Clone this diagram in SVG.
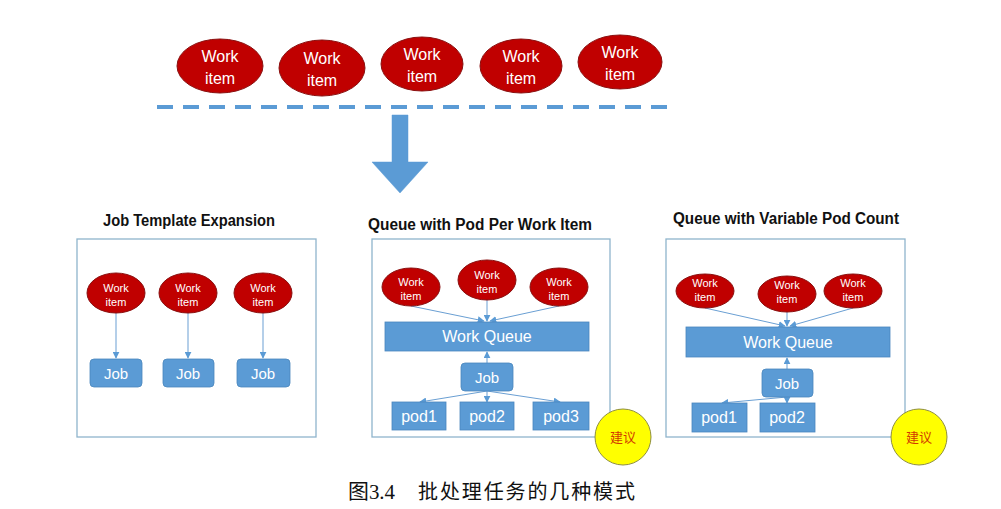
<svg xmlns="http://www.w3.org/2000/svg" width="1001" height="509" viewBox="0 0 1001 509">
<defs>
<marker id="ah" viewBox="0 0 10 10" refX="9" refY="5" markerWidth="7" markerHeight="7" markerUnits="userSpaceOnUse" orient="auto">
<path d="M0,0 L10,5 L0,10 z" fill="#5b9bd5"/>
</marker>
<style>
.wi{fill:#c00000;stroke:#8a1010;stroke-width:1}
.wt{fill:#fff;font-family:"Liberation Sans",Arial,sans-serif;text-anchor:middle}
.big{font-size:16px}
.sm{font-size:11px}
.blue{fill:#5b9bd5;stroke:#4a86bd;stroke-width:0.8}
.bt{fill:#fff;font-family:"Liberation Sans",Arial,sans-serif;text-anchor:middle}
.frame{fill:none;stroke:#8fb4cc;stroke-width:1.3}
.title{font-family:"Liberation Sans",Arial,sans-serif;font-weight:bold;font-size:16px;fill:#111}
.con{stroke:#6a9fd3;stroke-width:1;fill:none;marker-end:url(#ah)}
.sug{fill:#ffff00;stroke:#8f8f40;stroke-width:1}
.st{fill:#d23a00;font-family:"Noto Sans CJK SC",sans-serif;font-size:13px;text-anchor:middle}
</style>
</defs>
<rect width="1001" height="509" fill="#fff"/>

<!-- top work items -->
<g id="top-item1"><ellipse class="wi" cx="220" cy="66" rx="43" ry="27"/><text class="wt big" x="220" y="62">Work</text><text class="wt big" x="220" y="84">item</text></g>
<g id="top-item2"><ellipse class="wi" cx="322" cy="68" rx="43" ry="28"/><text class="wt big" x="322" y="64">Work</text><text class="wt big" x="322" y="86">item</text></g>
<g id="top-item3"><ellipse class="wi" cx="422" cy="64" rx="41" ry="27"/><text class="wt big" x="422" y="60">Work</text><text class="wt big" x="422" y="82">item</text></g>
<g id="top-item4"><ellipse class="wi" cx="521" cy="66" rx="41" ry="27"/><text class="wt big" x="521" y="62">Work</text><text class="wt big" x="521" y="84">item</text></g>
<g id="top-item5"><ellipse class="wi" cx="620" cy="62" rx="42" ry="27"/><text class="wt big" x="620" y="58">Work</text><text class="wt big" x="620" y="80">item</text></g>

<g id="divider"><line x1="157" y1="107" x2="670" y2="107" stroke="#5b9bd5" stroke-width="4" stroke-dasharray="16 10"/></g>
<g id="big-arrow"><polygon points="392,115 408,115 408,162 428,162 400,193 372,162 392,162" fill="#5b9bd5" stroke="#5b9bd5" stroke-width="0.5"/></g>

<!-- titles -->
<text class="title" x="103" y="226" textLength="172" lengthAdjust="spacingAndGlyphs">Job Template Expansion</text>
<text class="title" x="368" y="230" textLength="224" lengthAdjust="spacingAndGlyphs">Queue with Pod Per Work Item</text>
<text class="title" x="673" y="224" textLength="226" lengthAdjust="spacingAndGlyphs">Queue with Variable Pod Count</text>

<!-- frames -->
<rect class="frame" x="77" y="239" width="239" height="198"/>
<rect class="frame" x="372" y="239" width="238" height="198"/>
<rect class="frame" x="666" y="239" width="239" height="198"/>

<!-- connectors -->
<g id="connectors">
<line class="con" x1="116" y1="313" x2="116" y2="358"/>
<line class="con" x1="188" y1="313" x2="188" y2="358"/>
<line class="con" x1="263" y1="313" x2="263" y2="358"/>

<line class="con" x1="411" y1="306" x2="484" y2="321"/>
<line class="con" x1="487" y1="299" x2="487" y2="321"/>
<line class="con" x1="559" y1="306" x2="490" y2="321"/>
<line class="con" x1="487" y1="363" x2="487" y2="352"/>
<line class="con" x1="487" y1="391" x2="420" y2="402"/>
<line class="con" x1="487" y1="391" x2="487" y2="402"/>
<line class="con" x1="487" y1="391" x2="560" y2="402"/>

<line class="con" x1="705" y1="308" x2="785" y2="326"/>
<line class="con" x1="787" y1="312" x2="787" y2="326"/>
<line class="con" x1="853" y1="308" x2="790" y2="326"/>
<line class="con" x1="787" y1="369" x2="787" y2="358"/>
<line class="con" x1="787" y1="397" x2="722" y2="403"/>
<line class="con" x1="787" y1="397" x2="787" y2="403"/>
</g>

<!-- section 1 -->
<g id="s1-item1"><ellipse class="wi" cx="116" cy="293" rx="29" ry="20"/><text class="wt sm" x="116" y="292">Work</text><text class="wt sm" x="116" y="306">item</text></g>
<g id="s1-item2"><ellipse class="wi" cx="188" cy="293" rx="29" ry="20"/><text class="wt sm" x="188" y="292">Work</text><text class="wt sm" x="188" y="306">item</text></g>
<g id="s1-item3"><ellipse class="wi" cx="263" cy="293" rx="29" ry="20"/><text class="wt sm" x="263" y="292">Work</text><text class="wt sm" x="263" y="306">item</text></g>
<g id="s1-job1"><rect class="blue" x="90" y="359" width="52" height="28" rx="4"/><text class="bt" x="116" y="379" font-size="15">Job</text></g>
<g id="s1-job2"><rect class="blue" x="163" y="359" width="51" height="28" rx="4"/><text class="bt" x="188" y="379" font-size="15">Job</text></g>
<g id="s1-job3"><rect class="blue" x="237" y="359" width="53" height="28" rx="4"/><text class="bt" x="263" y="379" font-size="15">Job</text></g>

<!-- section 2 -->
<g id="s2-item1"><ellipse class="wi" cx="411" cy="287" rx="29" ry="19"/><text class="wt sm" x="411" y="286">Work</text><text class="wt sm" x="411" y="300">item</text></g>
<g id="s2-item2"><ellipse class="wi" cx="487" cy="280" rx="29" ry="20"/><text class="wt sm" x="487" y="279">Work</text><text class="wt sm" x="487" y="293">item</text></g>
<g id="s2-item3"><ellipse class="wi" cx="559" cy="287" rx="29" ry="19"/><text class="wt sm" x="559" y="286">Work</text><text class="wt sm" x="559" y="300">item</text></g>
<g id="s2-queue"><rect class="blue" x="385" y="322" width="204" height="29"/><text class="bt" x="487" y="342" font-size="16">Work Queue</text></g>
<g id="s2-job"><rect class="blue" x="461" y="363" width="52" height="28" rx="4"/><text class="bt" x="487" y="383" font-size="15">Job</text></g>
<g id="s2-pod1"><rect class="blue" x="392" y="402" width="54" height="28"/><text class="bt" x="419" y="422" font-size="16">pod1</text></g>
<g id="s2-pod2"><rect class="blue" x="460" y="402" width="54" height="28"/><text class="bt" x="487" y="422" font-size="16">pod2</text></g>
<g id="s2-pod3"><rect class="blue" x="533" y="402" width="56" height="28"/><text class="bt" x="561" y="422" font-size="16">pod3</text></g>
<g id="s2-suggest"><circle class="sug" cx="623" cy="437" r="28"/><text class="st" x="623" y="442">建议</text></g>

<!-- section 3 -->
<g id="s3-item1"><ellipse class="wi" cx="705" cy="291" rx="29" ry="17"/><text class="wt sm" x="705" y="287">Work</text><text class="wt sm" x="705" y="301">item</text></g>
<g id="s3-item2"><ellipse class="wi" cx="787" cy="294" rx="29" ry="18"/><text class="wt sm" x="787" y="289">Work</text><text class="wt sm" x="787" y="303">item</text></g>
<g id="s3-item3"><ellipse class="wi" cx="853" cy="291" rx="29" ry="17"/><text class="wt sm" x="853" y="287">Work</text><text class="wt sm" x="853" y="301">item</text></g>
<g id="s3-queue"><rect class="blue" x="686" y="327" width="204" height="30"/><text class="bt" x="788" y="348" font-size="16">Work Queue</text></g>
<g id="s3-job"><rect class="blue" x="762" y="369" width="51" height="28" rx="4"/><text class="bt" x="787" y="389" font-size="15">Job</text></g>
<g id="s3-pod1"><rect class="blue" x="692" y="403" width="55" height="29"/><text class="bt" x="719" y="423" font-size="16">pod1</text></g>
<g id="s3-pod2"><rect class="blue" x="760" y="403" width="55" height="29"/><text class="bt" x="787" y="423" font-size="16">pod2</text></g>
<g id="s3-suggest"><circle class="sug" cx="919" cy="437" r="28"/><text class="st" x="919" y="442">建议</text></g>

<!-- caption -->
<text y="499" font-family="'Liberation Serif','Noto Sans CJK SC',serif" font-size="20" fill="#111"><tspan x="348" textLength="47" lengthAdjust="spacingAndGlyphs">图3.4</tspan><tspan x="418" textLength="217" lengthAdjust="spacing">批处理任务的几种模式</tspan></text>
</svg>
